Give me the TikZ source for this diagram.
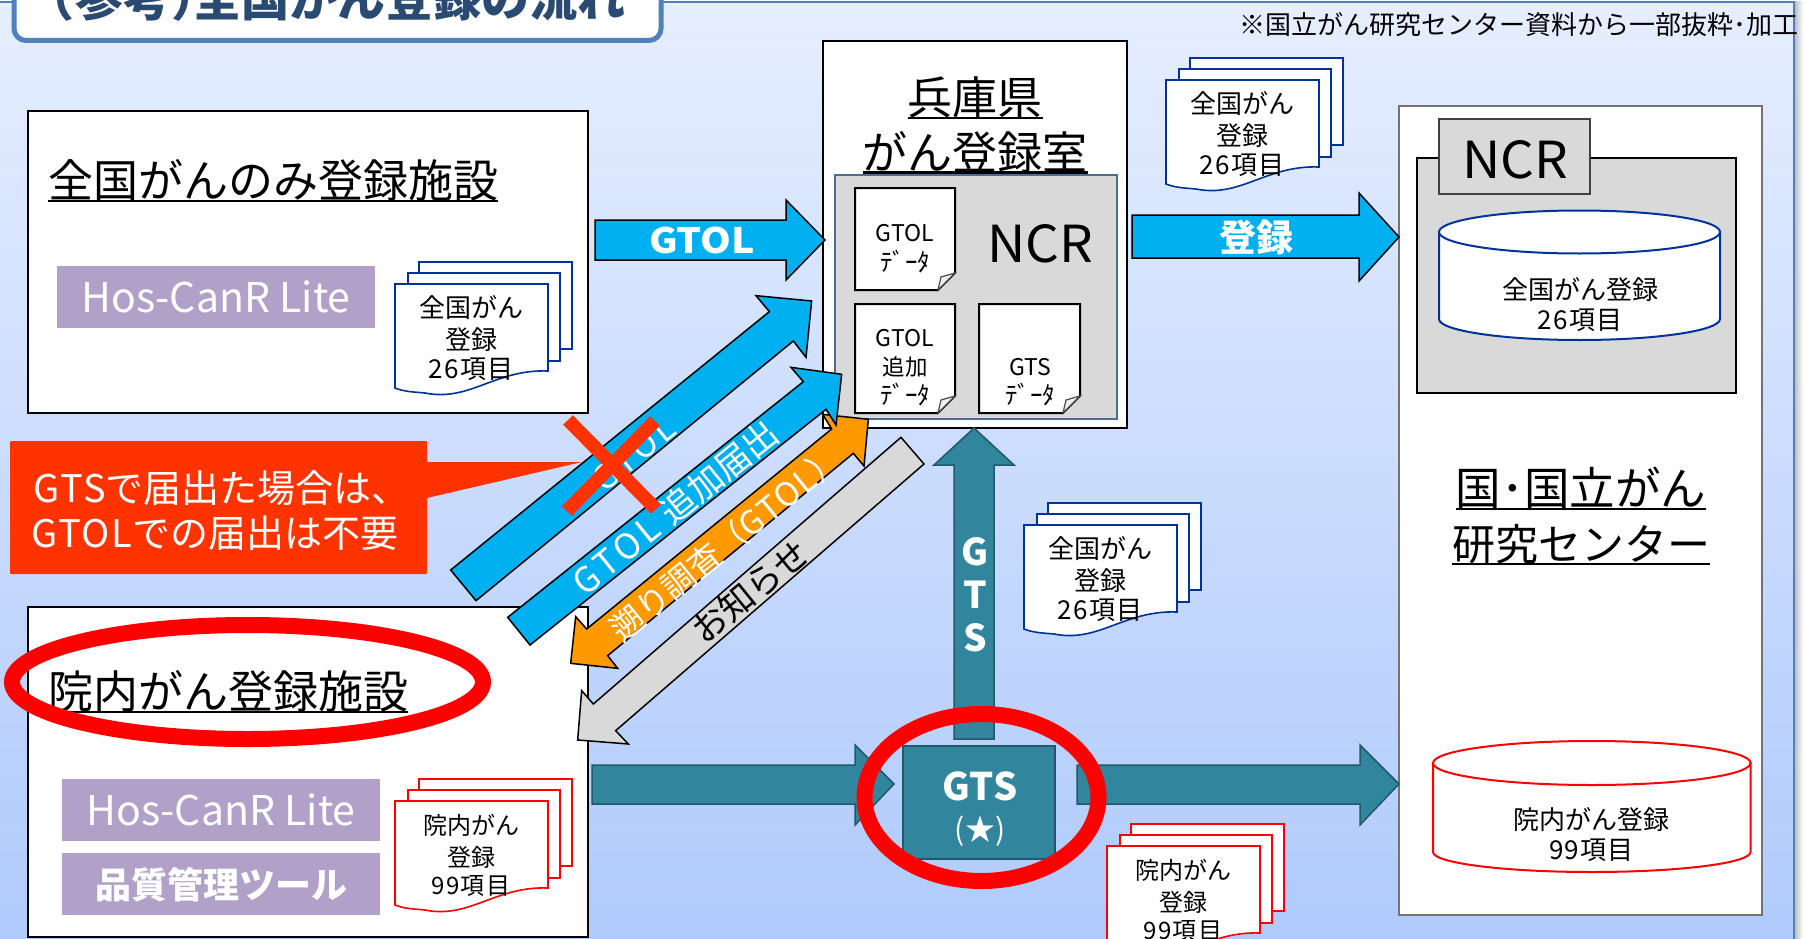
\documentclass[tikz,border=0pt]{standalone}
\usepackage{graphicx}
\usepackage{fontspec}
\setmainfont{Noto Sans CJK JP}
\newfontfamily\spaced[LetterSpace=12]{Noto Sans CJK JP}
\newfontfamily\spacedb[LetterSpace=5]{Noto Sans CJK JP}
\definecolor{framec}{HTML}{4F81BD}
\definecolor{titlec}{HTML}{2A4A72}
\definecolor{lav}{HTML}{B1A0C7}
\definecolor{panel}{HTML}{D9D9D9}
\definecolor{sky}{HTML}{00B0F0}
\definecolor{teal}{HTML}{31859C}
\definecolor{tealdk}{HTML}{215968}
\definecolor{orangeb}{HTML}{FF9900}
\definecolor{alert}{HTML}{FF3300}
\definecolor{navy}{HTML}{003399}
\definecolor{redc}{HTML}{FF0000}
\tikzset{
  txt/.style={inner sep=0pt,outer sep=0pt,font=\fontsize{#1}{#1}\selectfont},
  boldtxt/.style={inner sep=0pt,outer sep=0pt,font=\fontsize{#1}{#1}\selectfont\bfseries,text=white},
  wtxt/.style={txt=#1,text=white},
  boxw/.style={draw=black,line width=2pt,fill=white},
  lavbox/.style={fill=lav},
  blockblue/.style={draw=black,line width=1.5pt,fill=sky},
  blockorange/.style={draw=black,line width=1.5pt,fill=orangeb},
  blockgray/.style={draw=black,line width=1.5pt,fill=panel},
  blockteal/.style={draw=tealdk,line width=1.5pt,fill=teal},
  ulline/.style={line width=2.5pt,black},
  ring/.style={draw=redc,line width=16pt},
  notebox/.style={draw=black,line width=2pt,fill=white},
}
% document stack: name, x, y of front sheet, colour
\newcommand{\docstack}[4]{%
  \begin{scope}[shift={(#2,#3)}]
    \draw[#4,line width=1.6pt,fill=white] (24,-22) rectangle (177,65);
    \draw[#4,line width=1.6pt,fill=white] (13,-11) rectangle (165,77);
    \draw[#4,line width=1.6pt,fill=white] (0,0) -- (153,0) -- (153,87)
       .. controls (100,85) and (75,118) .. (30,109)
       .. controls (20,108) and (10,108) .. (0,104) -- cycle;
  \end{scope}}
\newcommand{\doctext}[7]{% name x y size l1 l2 l3
  \node[txt=#4] (#1a) at (#2+76,#3+24) {#5};
  \node[txt=#4] (#1b) at (#2+76,#3+56) {#6};
  \node[txt=#4] (#1c) at (#2+76,#3+85) {{\spacedb #7}};}
\newcommand{\notesheet}[4]{% x1 y1 x2 y2
  \draw[notebox] (#1,#2) -- (#3,#2) -- (#3,#4-17) -- (#3-17,#4) -- (#1,#4) -- cycle;
  \draw[line width=1.2pt,draw=black!70,fill=black!6] (#3,#4-17) -- (#3-14,#4-13) -- (#3-17,#4) -- cycle;}
\newcommand{\cyl}[7]{% x1 x2 topcy topry botcy botry colour
  \pgfmathsetmacro\cxx{(#1+#2)/2}\pgfmathsetmacro\rxx{(#2-#1)/2}
  \pgfmathsetmacro\kx{0.5523*\rxx}\pgfmathsetmacro\ky{0.5523*#6}
  \draw[#7,line width=2pt,fill=white] (#1,#3) -- (#1,#5)
    .. controls (#1,#5+\ky) and (\cxx-\kx,#5+#6) .. (\cxx,#5+#6)
    .. controls (\cxx+\kx,#5+#6) and (#2,#5+\ky) .. (#2,#5) -- (#2,#3) -- cycle;
  \draw[#7,line width=2pt,fill=white] (\cxx,#3) ellipse [x radius=\rxx,y radius=#4];}
\begin{document}
\begin{tikzpicture}[x=1pt,y=-1pt]
\useasboundingbox (0,0) rectangle (1806,939);
\fill[white] (0,0) rectangle (1806,939);
% slide background
\shade[left color=black!28,right color=white] (1794,2) rectangle (1803,945);
\shade[top color={rgb,255:red,230;green,238;blue,255},bottom color={rgb,255:red,175;green,202;blue,252}] (-3,2) rectangle (1794,945);
\draw[framec,line width=1.5pt] (-3,2) -- (1794,2) -- (1794,945);
% title
\draw[framec,line width=5pt,fill=white,rounded corners=12pt] (14,-30) rectangle (661,40.5);
\node[boldtxt=48,text=titlec,anchor=base west] (title) at (27,17) {（参考）\kern-26pt 全国がん登録の流れ};
\node[txt=26,anchor=west] (source) at (1239,25) {※国立がん研究センター資料から一部抜粋･加工};

% facility 1
\draw[boxw] (28,111) rectangle (588,413);
\node[txt=45,anchor=base west] (fac1) at (48,197.5) {全国がんのみ登録施設};
\draw[ulline] ([yshift=-3.5pt]fac1.base west) -- ([yshift=-3.5pt]fac1.base east);
\fill[lavbox] (57,266) rectangle (375,328);
\node[wtxt=41] (hos1) at (216,297) {Hos-CanR Lite};
\docstack{s1}{395}{284}{navy}
\doctext{s1}{395}{284}{26}{全国がん}{登録}{26項目}

% facility 2
\draw[boxw] (28,607) rectangle (588,937);
\node[txt=45,anchor=base west] (fac2) at (48,708.5) {院内がん登録施設};
\draw[ulline] ([yshift=-3.5pt]fac2.base west) -- ([yshift=-3.5pt]fac2.base east);
\fill[lavbox] (62,779) rectangle (380,841);
\node[wtxt=41] (hos2) at (221,810) {Hos-CanR Lite};
\fill[lavbox] (62,853) rectangle (380,915);
\node[boldtxt=36] (qual) at (221,885) {品質管理ツール};
\docstack{s2}{395}{801}{redc}
\doctext{s2}{395}{801}{24}{院内がん}{登録}{99項目}

% Hyogo box
\draw[boxw] (823,41) rectangle (1127,428);
\node[txt=45,anchor=base] (hy1) at (975,114.5) {兵庫県};
\draw[ulline] ([yshift=-3.5pt]hy1.base west) -- ([yshift=-3.5pt]hy1.base east);
\node[txt=45,anchor=base] (hy2) at (975,169) {がん登録室};
\draw[ulline] ([yshift=-3.5pt]hy2.base west) -- ([yshift=-3.5pt]hy2.base east);
\draw[draw={rgb,255:red,75;green,110;blue,150},line width=1.5pt,fill=panel] (835,175) rectangle (1117,419);
\node[txt=51] (ncr1) at (1040.5,244) {\scalebox{1.04}[1]{NCR}};
\notesheet{855}{188}{955}{290}
\notesheet{855}{304}{955}{413}
\notesheet{979}{304}{1080}{413}
\node[txt=23] (n1a) at (905,233) {GTOL};
\node[txt=25] (n1b) at (905,262) {ﾃﾞｰﾀ};
\node[txt=23] (n2a) at (905,338) {GTOL};
\node[txt=22.5] (n2b) at (905,367) {追加};
\node[txt=25] (n2c) at (905,395) {ﾃﾞｰﾀ};
\node[txt=23] (n3a) at (1030,367) {GTS};
\node[txt=25] (n3b) at (1030,395) {ﾃﾞｰﾀ};

% national box
\draw[draw=black!55,line width=1.5pt,fill=white] (1399,106) rectangle (1762,915);
\draw[boxw,fill=panel] (1417,158) rectangle (1736,393);
\draw[draw=black!75,line width=1.5pt,fill=panel] (1439,119) rectangle (1590,194);
\node[txt=51] (ncr2) at (1515,160) {\scalebox{1.04}[1]{NCR}};
\cyl{1439}{1720}{232}{21.5}{319}{21}{navy}
\node[txt=26] (db1a) at (1580,290) {全国がん登録};
\node[txt=26] (db1b) at (1580,320) {{\spacedb 26項目}};
\cyl{1433}{1750.5}{763}{22}{852}{20}{redc}
\node[txt=26] (db2a) at (1591.5,820) {院内がん登録};
\node[txt=26] (db2b) at (1591.5,850) {{\spacedb 99項目}};
\node[txt=45.5,anchor=base] (nat1) at (1581,505.5) {国･国立がん};
\draw[ulline] ([yshift=-3.5pt]nat1.base west) -- ([yshift=-3.5pt]nat1.base east);
\node[txt=43,anchor=base] (nat2) at (1581,560.5) {研究センター};
\draw[ulline] ([yshift=-3.5pt]nat2.base west) -- ([yshift=-3.5pt]nat2.base east);

% stacks outside boxes
\docstack{s3}{1166}{80}{navy}
\doctext{s3}{1166}{80}{26}{全国がん}{登録}{26項目}
\docstack{s4}{1024}{525}{navy}
\doctext{s4}{1024}{525}{26}{全国がん}{登録}{26項目}
\docstack{s5}{1107}{846}{redc}
\doctext{s5}{1107}{846}{24}{院内がん}{登録}{99項目}

% horizontal arrows
\draw[blockblue] (595,220) -- (786,220) -- (786,200) -- (825,240) -- (786,280) -- (786,260) -- (595,260) -- cycle;
\node[boldtxt=35] (a1) at (702,240) {\scalebox{1.12}[1]{GTOL}};
\draw[blockblue] (1132,215) -- (1359,215) -- (1359,193) -- (1399,237) -- (1359,281) -- (1359,258) -- (1132,258) -- cycle;
\node[boldtxt=37] (a2) at (1256,237) {登録};
\draw[blockteal] (592,765) -- (855,765) -- (855,745) -- (894,784) -- (855,825) -- (855,804) -- (592,804) -- cycle;
\draw[blockteal] (1077,765) -- (1360,765) -- (1360,745) -- (1399,784) -- (1360,825) -- (1360,804) -- (1077,804) -- cycle;
\draw[blockteal] (974,428) -- (1014,465) -- (994,465) -- (994,739) -- (954,739) -- (954,465) -- (934,465) -- cycle;
\node[boldtxt=37,align=center,font=\fontsize{37}{43}\selectfont\bfseries] (a3) at (975,595) {G\\T\\S};
% GTS box
\draw[draw=tealdk,line width=2pt,fill=teal] (903,746) rectangle (1055,859);
\node[boldtxt=38] (gts) at (980,786) {GTS};
\node[wtxt=30] (star) at (980,831) {(★)};

% diagonal arrows (coordinates in 3x crop units)
\begin{scope}[shift={(440,280)},x=0.33333pt,y=-0.33333pt]
\draw[blockgray] (413,1380) -- (425,1232) -- (460,1272) -- (1383,472) -- (1452,552) -- (527,1352) -- (565,1392) -- cycle;
\draw[blockorange] (392,1150) -- (407,1010) -- (440,1047) -- (1175,447) -- (1148,403) -- (1285,418) -- (1272,558) -- (1240,520) -- (503,1127) -- (533,1165) -- cycle;
\draw[blockblue] (203,1012) -- (1090,305) -- (1053,262) -- (1205,283) -- (1188,435) -- (1158,388) -- (270,1095) -- cycle;
\draw[blockblue] (32,870) -- (988,95) -- (948,47) -- (1115,63) -- (1098,232) -- (1060,183) -- (108,962) -- cycle;
\node[wtxt=33,rotate=39,font=\fontsize{33}{33}\spaced] (d1) at (582,522) {GTOL};
\node[wtxt=35,rotate=39] (d2) at (705,682) {{\spaced GTOL }追加届出};
\node[wtxt=33,rotate=39] (d3) at (858,790) {遡り調査（{\spacedb GTOL}）};
\node[txt=35,rotate=39] (d4) at (930,935) {お知らせ};
\end{scope}

% callout
\fill[alert,rounded corners=1pt] (10,441) -- (427,441) -- (427,462) -- (582,462) -- (427,498) -- (427,574) -- (10,574) -- cycle;
\node[wtxt=38,anchor=west] (c1) at (33,488) {{\spacedb GTS}で届出た場合は、};
\node[wtxt=38,anchor=west] (c2) at (31,533) {{\spacedb GTOL}での届出は不要};
% cross
\draw[alert,line width=13.5pt] (568,420) -- (656,509);
\draw[alert,line width=13.5pt] (655,421) -- (567,511);
% rings
\draw[ring] (247.5,682) ellipse [x radius=235.5,y radius=57];
\draw[ring] (981.5,797.5) ellipse [x radius=117,y radius=83.5];
\end{tikzpicture}
\end{document}
